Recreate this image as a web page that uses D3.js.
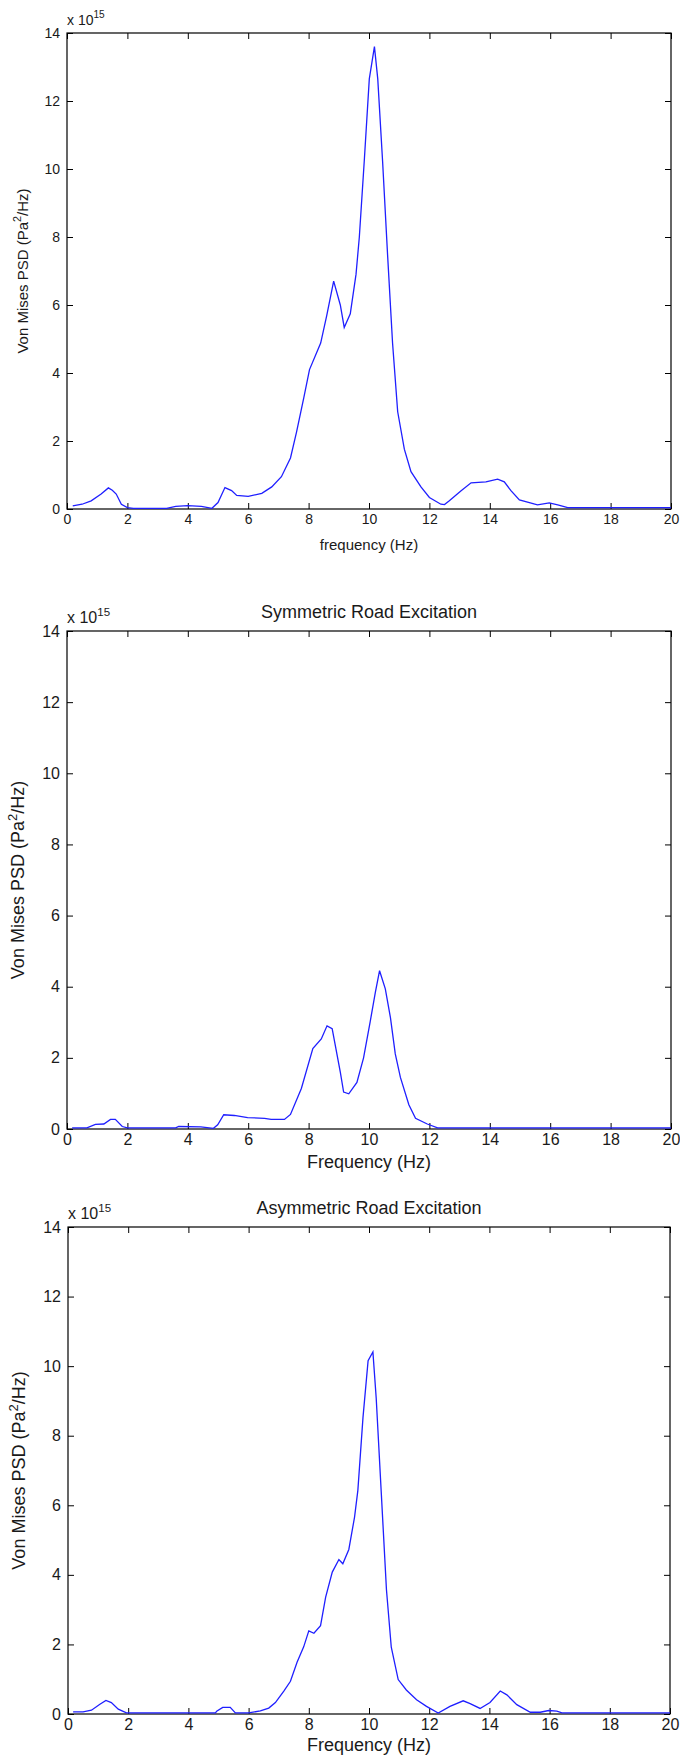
<!DOCTYPE html>
<html>
<head>
<meta charset="utf-8">
<script src="https://cdn.jsdelivr.net/npm/d3@7"></script>
<style>
  body { margin: 0; background: #fff; }
  svg { display: block; font-family: "Liberation Sans", Arial, sans-serif; }
  .tickText text { fill: #1a1a1a; }
</style>
</head>
<body>
<div id="chart"></div>
<script>
// Von Mises PSD - three stacked plots (x 10^15 Pa^2/Hz)

// Section 1: data
// ======================================================

var freq1 = [0.19, 0.5, 0.8, 1.13, 1.37, 1.5, 1.63, 1.8, 2.0, 2.2, 3.3, 3.6, 4.0, 4.45, 4.8,
  5.0, 5.23, 5.45, 5.62, 6.0, 6.45, 6.78, 7.1, 7.4, 7.6, 7.84, 8.03, 8.4, 8.6, 8.83,
  9.05, 9.18, 9.38, 9.57, 9.68, 9.85, 10.01, 10.18, 10.29, 10.45, 10.62, 10.78, 10.95,
  11.17, 11.39, 11.72, 12.0, 12.38, 12.5, 12.66, 13.05, 13.38, 13.87, 14.26, 14.48,
  14.7, 14.98, 15.58, 15.97, 16.25, 16.58, 20];
var psd1 = [0.09, 0.14, 0.24, 0.44, 0.62, 0.55, 0.44, 0.14, 0.04, 0.02, 0.02, 0.08, 0.1, 0.08, 0.02,
  0.19, 0.63, 0.54, 0.4, 0.37, 0.46, 0.65, 0.95, 1.5, 2.26, 3.27, 4.1, 4.88, 5.69, 6.7,
  6.0, 5.34, 5.74, 6.9, 8.0, 10.33, 12.65, 13.6, 12.65, 10.23, 7.4, 4.88, 2.86,
  1.76, 1.1, 0.65, 0.34, 0.14, 0.13, 0.24, 0.54, 0.77, 0.8, 0.88, 0.8,
  0.54, 0.27, 0.12, 0.18, 0.12, 0.04, 0.04];

var freq2 = [0.17, 0.66, 0.94, 1.22, 1.44, 1.6, 1.83, 2.0, 3.6, 3.7, 4.43, 4.85, 4.99, 5.19,
  5.54, 5.98, 6.54, 6.76, 7.2, 7.4, 7.76, 8.14, 8.42, 8.61, 8.78, 9.05, 9.16, 9.33,
  9.6, 9.82, 10.04, 10.21, 10.35, 10.54, 10.71, 10.87, 11.04, 11.32, 11.54, 11.93, 12.27, 20];
var psd2 = [0.03, 0.03, 0.13, 0.14, 0.27, 0.27, 0.07, 0.03, 0.03, 0.07, 0.06, 0.02, 0.12, 0.4,
  0.38, 0.32, 0.3, 0.27, 0.27, 0.41, 1.14, 2.26, 2.53, 2.9, 2.82, 1.6, 1.04, 0.99,
  1.31, 2.0, 3.02, 3.84, 4.45, 3.94, 3.13, 2.11, 1.45, 0.68, 0.3, 0.14, 0.03, 0.03];

var freq3 = [0.17, 0.5, 0.78, 1.06, 1.26, 1.44, 1.67, 1.94, 4.9, 4.94, 5.14, 5.39, 5.56, 6.0,
  6.39, 6.67, 6.89, 7.17, 7.39, 7.61, 7.83, 8.0, 8.17, 8.39, 8.56, 8.78, 9.0, 9.13,
  9.33, 9.52, 9.63, 9.8, 9.97, 10.13, 10.24, 10.41, 10.58, 10.74, 10.97, 11.24, 11.58,
  11.91, 12.3, 12.69, 13.13, 13.36, 13.69, 14.02, 14.36, 14.58, 14.91, 15.36, 15.69,
  15.97, 16.24, 16.41, 20];
var psd3 = [0.06, 0.06, 0.11, 0.28, 0.39, 0.33, 0.14, 0.03, 0.03, 0.08, 0.19, 0.19, 0.03, 0.03,
  0.09, 0.17, 0.33, 0.66, 0.94, 1.49, 1.93, 2.39, 2.32, 2.54, 3.36, 4.08, 4.44, 4.32,
  4.73, 5.66, 6.43, 8.52, 10.16, 10.41, 9.07, 6.32, 3.57, 1.92, 0.99, 0.69, 0.41,
  0.22, 0.03, 0.22, 0.38, 0.3, 0.16, 0.33, 0.66, 0.55, 0.27, 0.05, 0.05,
  0.1, 0.08, 0.03, 0.03];

var xTicks = [0, 2, 4, 6, 8, 10, 12, 14, 16, 18, 20];
var yTicks = [0, 2, 4, 6, 8, 10, 12, 14];

var titles = [null, "Symmetric Road Excitation", "Asymmetric Road Excitation"];
var xLabels = ["frequency (Hz)", "Frequency (Hz)", "Frequency (Hz)"];

// Section 2: canvas and panel layout
// ======================================================

var width = 680;
var height = 1755;
var tickLen = 6;

var svg = d3
  .select("#chart")
  .append("svg")
  .attr("width", width)
  .attr("height", height);

var panels = [
  { top: 33, h: 476, left: 67, right: 671, font: 14, labelFont: 15, titleFont: 15, yLabX: 39, xLabDy: 41, freq: freq1, psd: psd1 },
  { top: 631, h: 498, left: 67, right: 671, font: 16, labelFont: 18, titleFont: 18, yLabX: 43, xLabDy: 39, freq: freq2, psd: psd2 },
  { top: 1227, h: 487, left: 68, right: 670, font: 16, labelFont: 18, titleFont: 18, yLabX: 43, xLabDy: 37, freq: freq3, psd: psd3 }
];

// Section 3: draw one panel
// ======================================================

function drawPanel(p, i) {
  var bottom = p.top + p.h;
  var points = p.freq.map(function(f, j) {
    return [f, p.psd[j]];
  });

  var xScale = d3.scaleLinear().domain([0, 20]).range([p.left, p.right]);
  var yScale = d3.scaleLinear().domain([0, 14]).range([bottom, p.top]);

  var g = svg.append("g").attr("class", "panel" + i);

  // bottom axis with labels, ticks pointing in
  g.append("g")
    .attr("class", "tickText")
    .attr("transform", "translate(0," + bottom + ")")
    .call(d3.axisBottom(xScale).tickValues(xTicks).tickSizeInner(-tickLen).tickSizeOuter(0).tickPadding(5))
    .attr("font-size", p.font)
    .attr("font-family", null);

  g.append("g")
    .attr("transform", "translate(0," + p.top + ")")
    .call(d3.axisTop(xScale).tickValues(xTicks).tickSizeInner(-tickLen).tickSizeOuter(0).tickFormat(""));

  g.append("g")
    .attr("class", "tickText")
    .attr("transform", "translate(" + p.left + ",0)")
    .call(d3.axisLeft(yScale).tickValues(yTicks).tickSizeInner(-tickLen).tickSizeOuter(0).tickPadding(7))
    .attr("font-size", p.font)
    .attr("font-family", null);

  g.append("g")
    .attr("transform", "translate(" + p.right + ",0)")
    .call(d3.axisRight(yScale).tickValues(yTicks).tickSizeInner(-tickLen).tickSizeOuter(0).tickFormat(""));

  g.selectAll(".domain").remove();
  g.selectAll(".tick line").attr("stroke", "#000");

  g.append("rect")
    .attr("x", p.left)
    .attr("y", p.top)
    .attr("width", p.right - p.left)
    .attr("height", p.h)
    .attr("fill", "none")
    .attr("stroke", "#000")
    .attr("stroke-width", 1.2);

  // the curve
  var line = d3.line()
    .x(function(d) { return xScale(d[0]); })
    .y(function(d) { return yScale(d[1]); });

  g.append("path")
    .datum(points)
    .attr("d", line)
    .attr("fill", "none")
    .attr("stroke", "#1f1fff")
    .attr("stroke-width", 1.3);

  // exponent label
  var expo = g.append("text")
    .attr("x", p.left)
    .attr("y", p.top - 8)
    .attr("font-size", p.font)
    .attr("fill", "#1a1a1a");
  expo.append("tspan").text("x 10");
  expo.append("tspan").attr("dy", -7).attr("font-size", p.font * 0.72).text("15");

  // title
  if (titles[i]) {
    g.append("text")
      .attr("x", (p.left + p.right) / 2)
      .attr("y", p.top - 13)
      .attr("text-anchor", "middle")
      .attr("font-size", p.titleFont)
      .attr("fill", "#1a1a1a")
      .text(titles[i]);
  }

  // x label
  g.append("text")
    .attr("x", (p.left + p.right) / 2)
    .attr("y", bottom + p.xLabDy)
    .attr("text-anchor", "middle")
    .attr("font-size", p.labelFont)
    .attr("fill", "#1a1a1a")
    .text(xLabels[i]);

  // y label
  var yl = g.append("text")
    .attr("transform", "translate(" + (p.left - p.yLabX) + "," + (p.top + p.h / 2) + ")rotate(-90)")
    .attr("text-anchor", "middle")
    .attr("font-size", p.labelFont)
    .attr("fill", "#1a1a1a");
  yl.append("tspan").text("Von Mises PSD (Pa");
  yl.append("tspan").attr("dy", -7).attr("font-size", p.labelFont * 0.72).text("2");
  yl.append("tspan").attr("dy", 7).text("/Hz)");
}

panels.forEach(drawPanel);
</script>
</body>
</html>
